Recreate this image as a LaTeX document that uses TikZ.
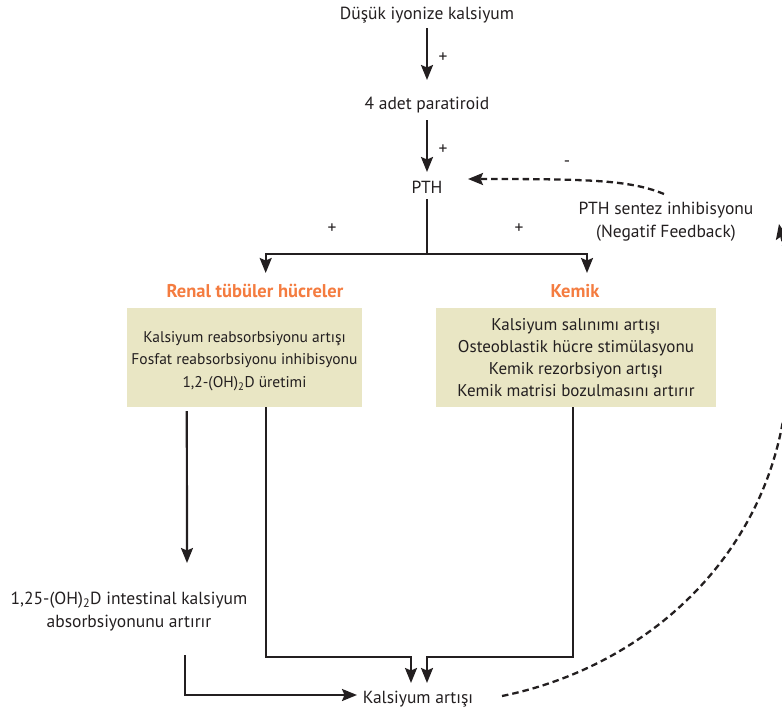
\documentclass[tikz,border=0pt]{standalone}
\usepackage{fontspec}
\setmainfont{PT Sans}
\usetikzlibrary{arrows.meta}
\definecolor{boxfill}{HTML}{E9E6C4}
\definecolor{orng}{HTML}{F47C40}
\definecolor{ink}{HTML}{231F20}
\begin{document}
\begin{tikzpicture}[x=1pt,y=-1pt,
  font=\fontsize{17.5}{22.5}\selectfont,
  txt/.style={inner sep=0pt, anchor=base, text=ink},
  hdr/.style={inner sep=0pt, anchor=base, text=orng, font=\fontsize{18.5}{22}\selectfont\bfseries},
  bx/.style={fill=boxfill, draw=none, inner sep=0pt, align=center, text=ink},
  tip/.style={-{Stealth[length=15pt,width=12pt,inset=2.5pt]}},
  arr/.style={draw=ink, line width=2.2pt, tip},
  ln/.style={draw=ink, line width=2.2pt},
  dsh/.style={draw=ink, line width=2.3pt, dash pattern=on 6.5pt off 4pt, tip}
]
\path[use as bounding box, clip] (0,0) rectangle (782,715);

% texts
\node[txt] (dusuk) at (427,19) {Düşük iyonize kalsiyum};
\node[txt] (parat) at (427,109) {4 adet paratiroid};
\node[txt] (pth) at (427,193) {PTH};
\node[txt] (p1) at (443,62) {+};
\node[txt] (p2) at (443,154) {+};
\node[txt] (p3) at (332,233) {+};
\node[txt] (p4) at (519,233) {+};
\node[txt] (m1) at (567,166) {-};
\node[txt, align=center] (fb) at (666,237) {PTH sentez inhibisyonu\\(Negatif Feedback)};

\node[hdr] (renal) at (255,297) {Renal tübüler hücreler};
\node[hdr] (kemik) at (575,297) {Kemik};

\node[bx, minimum width=235pt, minimum height=99pt] (lbox) at (244.5,357.5) {};
\node[inner sep=0pt, align=center, text=ink, font=\fontsize{15.5}{22.5}\selectfont] (ltext) at (244.5,361)
  {Kalsiyum reabsorbsiyonu artışı\\Fosfat reabsorbsiyonu inhibisyonu\\1,2-(OH)\textsubscript{2}D üretimi};
\node[bx, minimum width=280pt, minimum height=99pt, font=\fontsize{17}{22}\selectfont] (rbox) at (576,357.5)
  {Kalsiyum salınımı artışı\\Osteoblastik hücre stimülasyonu\\Kemik rezorbsiyon artışı\\Kemik matrisi bozulmasını artırır};

\node[txt, align=center] (intest) at (129,627) {1,25-(OH)\textsubscript{2}D intestinal kalsiyum\\absorbsiyonunu artırır};
\node[txt] (kals) at (418,703) {Kalsiyum artışı};

% connectors
\draw[arr] ([yshift=-9pt]dusuk.base) -- ([yshift=29pt]parat.base);
\draw[arr] ([yshift=-11pt]parat.base) -- ([yshift=21pt]pth.base);

\draw[ln] ([yshift=-6pt]pth.base) -- ([yshift=-61pt]pth.base);
\draw[arr] ([yshift=-61pt]pth.base) -| ([xshift=10.7pt,yshift=24pt]renal.base);
\draw[arr] ([yshift=-61pt]pth.base) -| ([xshift=12pt,yshift=24pt]kemik.base);

\draw[arr] ([xshift=60pt,yshift=-4pt]lbox.south west) -- ([xshift=58pt,yshift=64pt]intest.base);
\draw[arr] ([xshift=21.2pt]lbox.south) |- ([xshift=-7pt,yshift=46pt]kals.base) -- ([xshift=-7pt,yshift=20pt]kals.base);
\draw[arr] ([xshift=-3pt]rbox.south) |- ([xshift=9pt,yshift=46pt]kals.base) -- ([xshift=9pt,yshift=20pt]kals.base);
\draw[arr] ([xshift=56pt,yshift=-28pt]intest.base) |- ([xshift=-61pt,yshift=8pt]kals.base);

\draw[dsh] ([xshift=-2pt,yshift=43pt]fb.base) .. controls (630,180) and (590,179) .. ([xshift=41pt,yshift=14pt]pth.base);

\coordinate (rtip) at (779,224);
\draw[dsh] ([xshift=84pt,yshift=7pt]kals.base) .. controls (640,668) and (760,565) .. (784,415) .. controls (795,340) and (790,280) .. (rtip);
\end{tikzpicture}
\end{document}
